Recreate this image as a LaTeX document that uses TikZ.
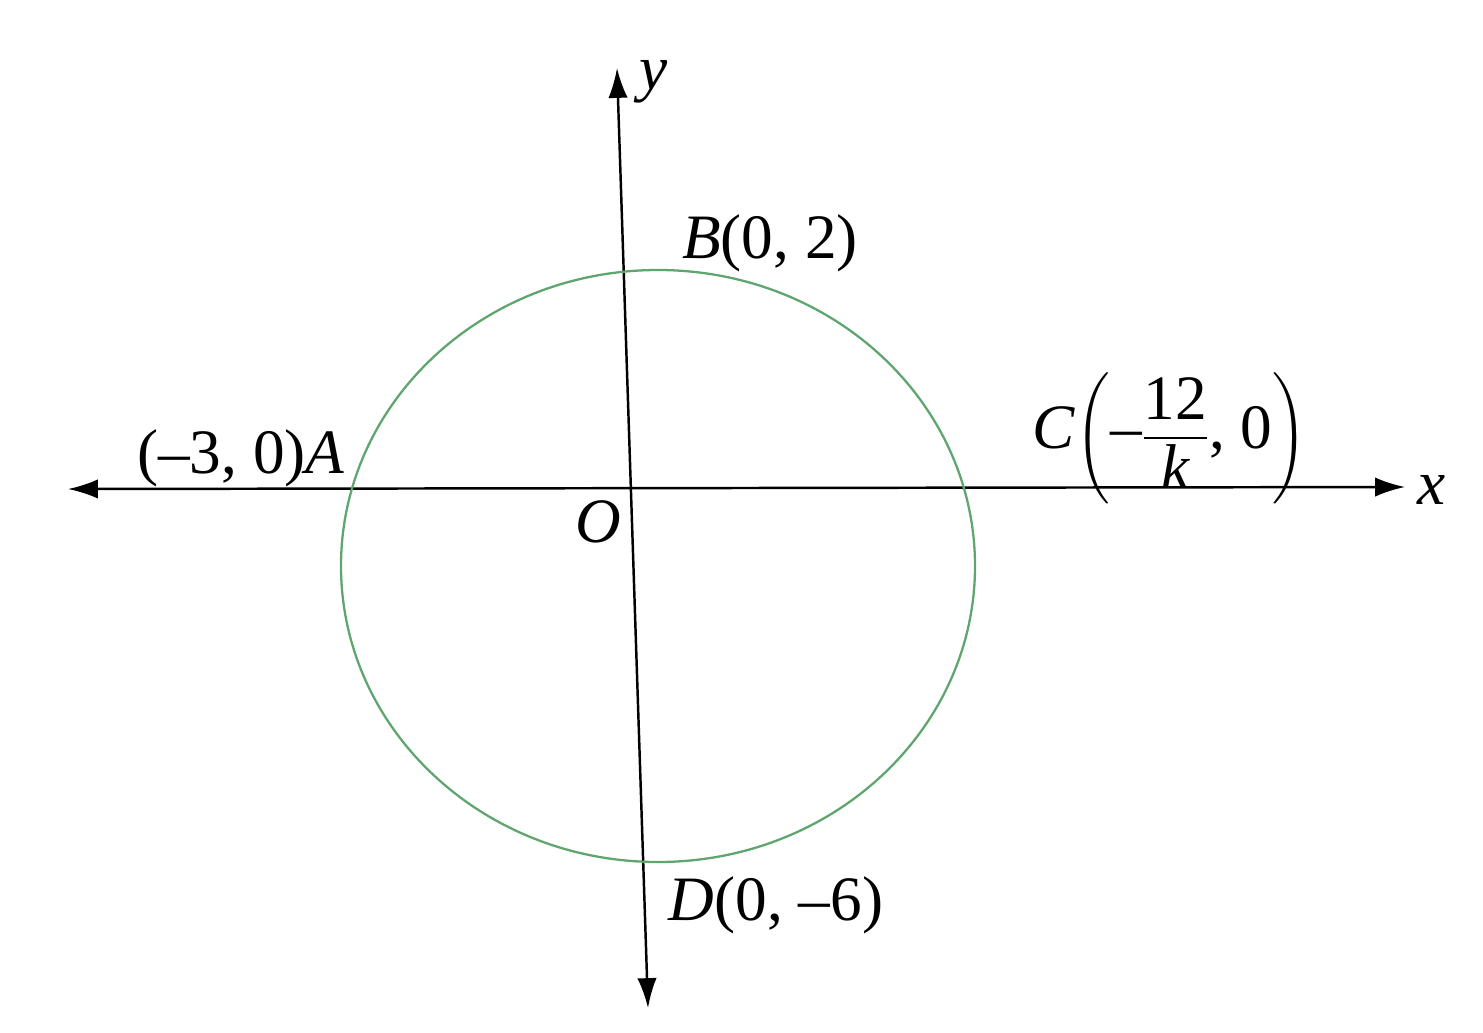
\documentclass[tikz,border=0pt]{standalone}
\usepackage{amsmath}
\usepackage{fontspec}
\setmainfont{Liberation Serif}
\usepackage{tikz}
\usetikzlibrary{shapes,arrows.meta}
\definecolor{circgreen}{RGB}{95,165,110}
\tikzstyle{axis} = [draw, line width=1.4pt, {Latex[length=17pt,width=11pt]}-{Latex[length=17pt,width=11pt]}]
\tikzstyle{lbl} = [inner sep=0pt, font=\fontsize{36}{42}\selectfont]

\begin{document}
\begin{tikzpicture}[x=0.02cm, y=-0.02cm]
\useasboundingbox (0,0) rectangle (1483,1032);
\coordinate (xl) at (68,489);
\coordinate (xr) at (1405,487);
\coordinate (yt) at (617,68);
\coordinate (yb) at (648,1008);
\path [axis] (xl) -- (xr);
\path [axis] (yt) -- (yb);

\draw [circgreen, line width=1.3pt] (658,566) ellipse [x radius=317, y radius=296];

\node [lbl] (ylbl) at (654,82) {\textit{y}};
\node [lbl] (xlbl) at (1432,490) {\textit{x}};
\node [lbl] (o) at (598,522) {\textit{O}};
\node [lbl] (b) at (770,243) {\textit{B}(0, 2)};
\node [lbl] (a) at (241,458) {(–3, 0)\textit{A}};
\node [lbl] (c) at (1170,438) {\textit{C}$\left(\text{–}\dfrac{\text{12}}{\text{\textit{k}}}\text{, 0}\right)$};
\node [lbl] (d) at (776,905) {\textit{D}(0, –6)};
\end{tikzpicture}
\end{document}
